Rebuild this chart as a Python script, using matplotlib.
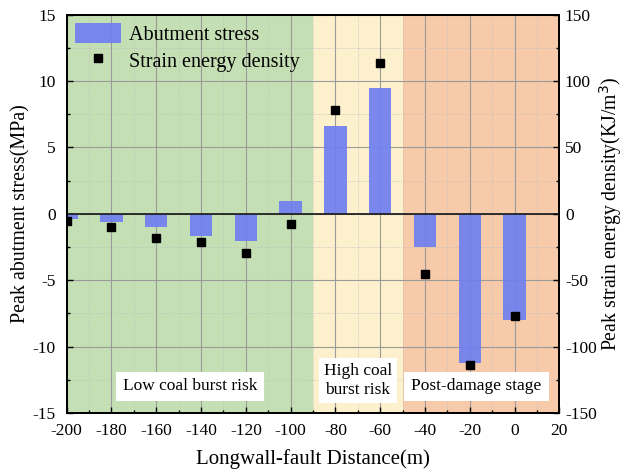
import matplotlib.pyplot as plt
from matplotlib.ticker import MultipleLocator

# -----------------------------------
# Data
# -----------------------------------
distance = [-200, -180, -160, -140, -120, -100, -80, -60, -40, -20, 0]
stress = [-0.35, -0.6, -1.0, -1.65, -2.05, 1.0, 6.6, 9.5, -2.5, -11.25, -8.0]
energy = [-5, -10, -18.5, -21.5, -29.5, -8, 78, 113.5, -45.5, -114, -77]

zones = [(-200, -90), (-90, -50), (-50, 20)]
zone_colors = ["#c5dfb5", "#fdf0cc", "#f7caa9"]
zone_labels = ["Low coal burst risk", "High coal\nburst risk", "Post-damage stage"]
zone_label_x = [-145, -70, -17]

plt.rcParams["font.family"] = "Liberation Serif"
plt.rcParams["axes.unicode_minus"] = False

fig = plt.figure(figsize=(6.25, 4.75), dpi=100)
ax = fig.add_axes([0.1067, 0.1305, 0.7883, 0.8385])

# -----------------------------------
# Background zones
# -----------------------------------
for (x0, x1), c in zip(zones, zone_colors):
    ax.axvspan(x0, x1, color=c, lw=0, zorder=0)

# -----------------------------------
# Grid
# -----------------------------------
ax.set_xlim(-200, 20)
ax.set_ylim(-15, 15)
ax.xaxis.set_major_locator(MultipleLocator(20))
ax.xaxis.set_minor_locator(MultipleLocator(10))
ax.yaxis.set_major_locator(MultipleLocator(5))
ax.yaxis.set_minor_locator(MultipleLocator(2.5))
ax.grid(which="major", color="#9a9a9a", lw=0.8, zorder=1)
ax.grid(which="minor", color="#bdbdbd", lw=0.6, ls=":", zorder=1)
ax.set_axisbelow(True)

# -----------------------------------
# Bars
# -----------------------------------
bars = ax.bar(distance, stress, width=10, color="#6f7ff0", alpha=0.92,
              zorder=2, label="Abutment stress")
ax.axhline(0, color="#222222", lw=1.3, zorder=3)

# -----------------------------------
# Zone labels
# -----------------------------------
for x, t in zip(zone_label_x, zone_labels):
    two = "\n" in t
    ax.text(x, -12.55 if two else -13.0, t, ha="center", va="center",
            fontsize=12.5, zorder=4, linespacing=1.25,
            bbox=dict(facecolor="white", edgecolor="none",
                      pad=3.5 if two else 5))

ax.tick_params(which="both", direction="in", labelsize=12.5, top=False)
ax.tick_params(which="major", length=4, width=1)
ax.tick_params(which="minor", length=2.5, width=1)
ax.tick_params(axis="x", pad=7)
ax.tick_params(axis="y", pad=8)
ax.set_xlabel("Longwall-fault Distance(m)", fontsize=15)
ax.set_ylabel("Peak abutment stress(MPa)", fontsize=14.4)
ax.xaxis.set_label_coords(0.5, -0.09)
ax.yaxis.set_label_coords(-0.073, 0.5)

# -----------------------------------
# Right axis: strain energy
# -----------------------------------
ax2 = ax.twinx()
ax2.set_ylim(-150, 150)
ax2.yaxis.set_major_locator(MultipleLocator(50))
ax2.yaxis.set_minor_locator(MultipleLocator(25))
pts, = ax2.plot(distance, energy, "s", color="black", ms=6, ls="none",
                zorder=5, label="Strain energy density")
ax2.tick_params(which="both", direction="in", labelsize=12.5, pad=4)
ax2.tick_params(which="major", length=4, width=1)
ax2.tick_params(which="minor", length=2.5, width=1)
ax2.set_ylabel("Peak strain energy density(KJ/m$^3$)", fontsize=14.2)
ax2.yaxis.set_label_coords(1.076, 0.5)

for a in (ax, ax2):
    for s in a.spines.values():
        s.set_linewidth(1.3)

leg = ax2.legend([bars, pts], ["Abutment stress", "Strain energy density"],
                 loc="upper left", frameon=False, fontsize=14.5,
                 handlelength=2.3, handleheight=1.2, borderaxespad=0.1,
                 borderpad=0.3, labelspacing=0.25, handletextpad=0.4)

fig.savefig("out.png", dpi=100)
